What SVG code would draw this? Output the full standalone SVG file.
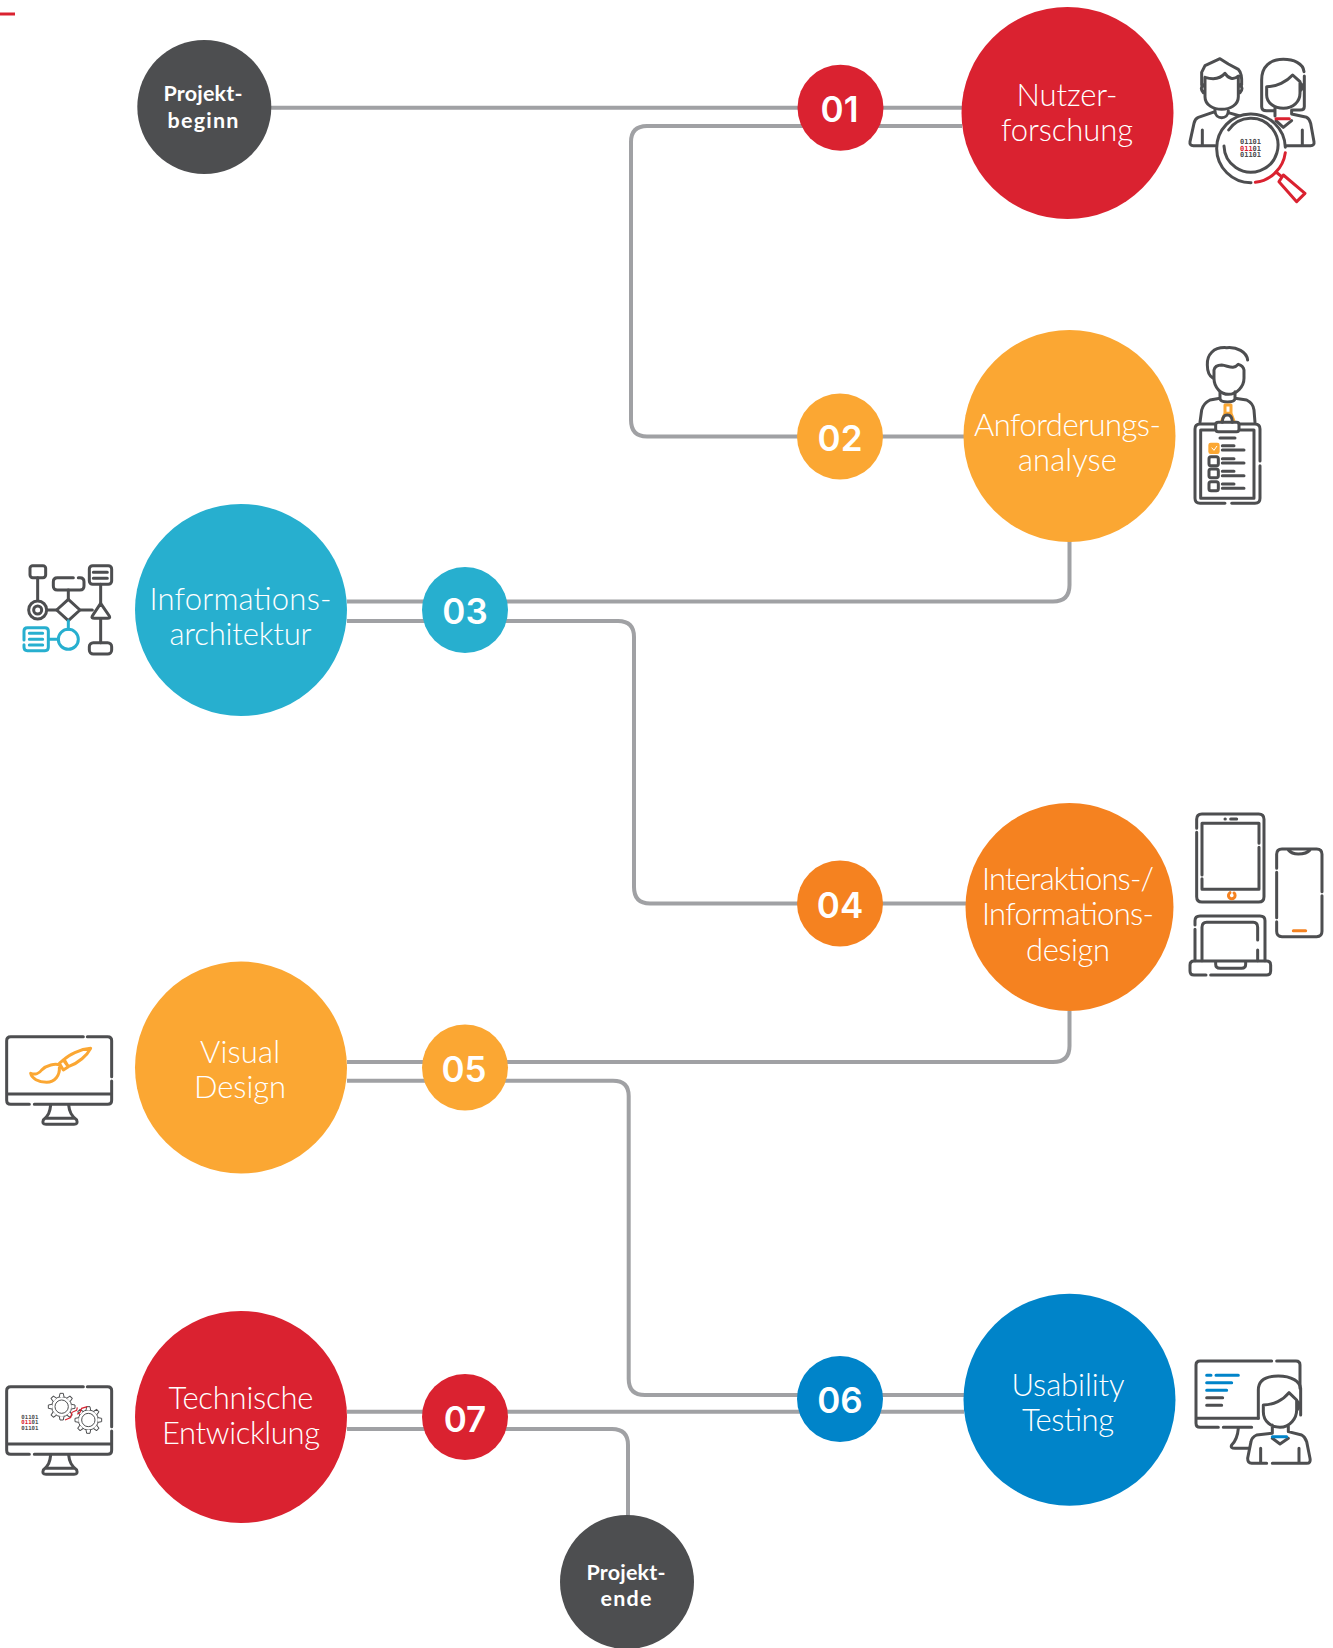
<svg xmlns="http://www.w3.org/2000/svg" width="1333" height="1648" viewBox="0 0 1333 1648">
<style>
.c{fill:none;stroke:#a0a1a4;stroke-width:4}
.i{fill:none;stroke:#4d4e50;stroke-width:9;stroke-linecap:round;stroke-linejoin:round}
.r{stroke:#da2230}.o{stroke:#fba733}.o2{stroke:#f58220}.b{stroke:#27afcf}.u{stroke:#0084c9}
.big{font-family:Lato,"Liberation Sans",sans-serif;font-weight:300;font-size:31px;fill:#fff;text-anchor:middle}
.num{font-family:Inter,"Liberation Sans",sans-serif;font-weight:600;font-size:35px;fill:#fff;text-anchor:middle}
.sm{font-family:Lato,"Liberation Sans",sans-serif;font-weight:700;font-size:21.500px;fill:#fff;text-anchor:middle}
.bin{font-family:"DejaVu Sans Mono",monospace;font-weight:700;font-size:21px;fill:#4d4e50}
.binS{font-family:"DejaVu Sans Mono",monospace;font-weight:700;font-size:17px;fill:#4d4e50}
</style>
<defs>
<g id="monitor">
<path class="i" d="M250 35H32Q20 35 20 47V226Q20 238 32 238H88M103 238H323Q335 238 335 226V168M335 155V47Q335 35 323 35H262M22 207H333"/>
<path class="i" d="M152 240C150 262 145 272 130 285Q125 298 138 298H222Q235 298 230 285C215 272 208 262 206 240M140 280H220"/>
</g>
<path id="tooth" d="M-7 -29L-5 -40H5L7 -29" fill="#fff" stroke="#4d4e50" stroke-width="3" stroke-linejoin="round"/>
<g id="gear">
<circle r="30" fill="#fff" stroke="#4d4e50" stroke-width="3"/>
<use href="#tooth"/><use href="#tooth" transform="rotate(45)"/><use href="#tooth" transform="rotate(90)"/><use href="#tooth" transform="rotate(135)"/><use href="#tooth" transform="rotate(180)"/><use href="#tooth" transform="rotate(225)"/><use href="#tooth" transform="rotate(270)"/><use href="#tooth" transform="rotate(315)"/>
<circle r="27" fill="#fff"/>
<circle r="20" fill="none" stroke="#4d4e50" stroke-width="3"/>
</g>
</defs>

<path d="M0 14H15" fill="none" stroke="#da2230" stroke-width="3"/>

<g id="connectors">
<path class="c" d="M271 107.700H962"/>
<path class="c" d="M962 126H647Q631 126 631 142V420Q631 436.500 647 436.500H964"/>
<path class="c" d="M1069.500 541V585Q1069.500 601.500 1053 601.500H347"/>
<path class="c" d="M347 621H618Q634 621 634 637V887Q634 903.500 650 903.500H966"/>
<path class="c" d="M1069.500 1011V1046Q1069.500 1062 1053 1062H347"/>
<path class="c" d="M347 1080.700H613Q628.700 1080.700 628.700 1096V1379Q628.700 1395 645 1395H964"/>
<path class="c" d="M347 1411.700H964"/>
<path class="c" d="M347 1429H612Q628 1429 628 1445V1516"/>
</g>

<g id="node-start"><circle cx="204.300" cy="107" r="67" fill="#4d4e50"/><text class="sm" x="203" y="101" textLength="79">Projekt-</text><text class="sm" x="203" y="128" textLength="71">beginn</text></g>
<g id="node-end"><circle cx="627" cy="1582" r="67" fill="#4d4e50"/><text class="sm" x="626" y="1580" textLength="79">Projekt-</text><text class="sm" x="626" y="1606" textLength="51">ende</text></g>

<g id="node-01"><circle cx="840.500" cy="107.800" r="43" fill="#da2230"/><text class="num" x="839.500" y="122">01</text>
<circle cx="1067.500" cy="113" r="106" fill="#da2230"/><text class="big" x="1067" y="106" textLength="101">Nutzer-</text><text class="big" x="1067" y="141" textLength="132">forschung</text></g>
<g id="node-02"><circle cx="840" cy="436.500" r="43" fill="#fba733"/><text class="num" x="840" y="451">02</text>
<circle cx="1069.500" cy="436" r="106" fill="#fba733"/><text class="big" x="1067.500" y="436" textLength="187">Anforderungs-</text><text class="big" x="1067.500" y="471" textLength="99">analyse</text></g>
<g id="node-03"><circle cx="465" cy="610" r="43" fill="#27afcf"/><text class="num" x="465" y="624">03</text>
<circle cx="241" cy="610" r="106" fill="#27afcf"/><text class="big" x="240.500" y="610" textLength="182">Informations-</text><text class="big" x="240.500" y="645" textLength="142">architektur</text></g>
<g id="node-04"><circle cx="840" cy="903.600" r="43" fill="#f58220"/><text class="num" x="840" y="918">04</text>
<circle cx="1069.500" cy="907" r="104" fill="#f58220"/><text class="big" x="1068" y="890" textLength="172">Interaktions-/</text><text class="big" x="1068" y="925" textLength="172">Informations-</text><text class="big" x="1068" y="961" textLength="84">design</text></g>
<g id="node-05"><circle cx="465" cy="1067.600" r="43" fill="#fba733"/><text class="num" x="464" y="1082">05</text>
<circle cx="241" cy="1067.600" r="106" fill="#fba733"/><text class="big" x="240" y="1063" textLength="80">Visual</text><text class="big" x="240" y="1098" textLength="92">Design</text></g>
<g id="node-06"><circle cx="840" cy="1399" r="43" fill="#0084c9"/><text class="num" x="840" y="1413">06</text>
<circle cx="1069.500" cy="1399.700" r="106" fill="#0084c9"/><text class="big" x="1068" y="1396" textLength="113">Usability</text><text class="big" x="1068" y="1431" textLength="92">Testing</text></g>
<g id="node-07"><circle cx="465" cy="1417" r="43" fill="#da2230"/><text class="num" x="465" y="1432">07</text>
<circle cx="241" cy="1417" r="106" fill="#da2230"/><text class="big" x="241" y="1409" textLength="145">Technische</text><text class="big" x="241" y="1444" textLength="158">Entwicklung</text></g>

<g id="icon-research" transform="translate(1170 40) scale(.3333)">
<path class="i" d="M95 135V97L105 77L150 56L175 72L205 88Q217 100 215 135M105 112V170C105 195 130 208 155 208C180 208 205 195 205 170V108C190 122 175 115 165 100C150 118 125 118 105 112M100 135Q88 145 100 158M210 135Q222 145 210 158"/>
<path class="i" d="M135 207V215L85 232Q75 236 72 250L60 305Q58 317 70 317H135M135 212C135 240 175 240 175 212V218L210 228M97 270V317"/>
<path class="i" d="M402 95C400 70 370 58 340 58C300 58 275 80 275 120V200Q275 212 290 212H310M403 108V200Q403 210 390 210H368M290 140V165C290 190 315 205 340 205C370 205 390 185 390 160V125L368 105C350 125 320 140 290 140M392 130Q402 140 392 152M315 205V228"/>
<path class="i" d="M365 210V222L410 232Q418 236 422 250L432 305Q434 317 422 317H350M318 242L340 262L365 242M397 270V317"/>
<circle cx="243" cy="325" r="103" fill="#fff"/>
<path class="i" d="M243 428A103 103 0 1 1 346 322"/>
<path class="i r" d="M346 338A103 103 0 0 1 256 427M318 236H358M340 405L405 460L380 485L327 425Z"/>
<path class="i" d="M176 270A81 81 0 1 1 162 318"/>
<path class="i r" d="M318 396L335 410"/>
<text class="bin" x="210" y="312">01101</text>
<text class="bin" x="210" y="332"><tspan fill="#da2230">011</tspan>01</text>
<text class="bin" x="210" y="352">01101</text>
</g>

<g id="icon-analysis" transform="translate(1170 335) scale(.3333)">
<path class="i" d="M233 75C230 50 200 35 170 38C130 35 110 60 112 90C112 110 120 125 130 130M132 105V130C132 160 155 178 175 178C200 178 222 155 222 130V105Q220 92 205 88C190 105 175 92 155 90Q135 90 132 105"/>
<path class="i" d="M150 170V190C150 205 195 205 195 190V170M150 190L120 195Q100 205 95 225L90 262M195 190L230 195Q250 205 252 225L255 262"/>
<path class="i o" d="M165 210H183V235H165ZM165 235L155 258M183 235L192 258"/>
<path class="i" d="M157 262Q157 240 172 240Q187 240 187 262"/>
<path class="i" d="M135 267H90Q75 267 75 282V490Q75 505 90 505H165M185 505H255Q270 505 270 490V392M270 378V282Q270 267 255 267H208"/>
<path class="i" d="M137 270Q137 262 145 262H200Q207 262 207 270V282Q207 290 200 290H145Q137 290 137 282ZM135 285H92V490H252V285H210M150 309H195"/>
<rect x="115" y="323" width="34" height="34" rx="7" fill="#fba733"/>
<path d="M125 338L132 346L141 333" fill="none" stroke="#fff" stroke-width="3"/>
<path class="i" d="M157 332H192M157 345H222M157 371H192M157 384H222M157 409H192M157 422H222M157 447H192M157 460H222"/>
<rect class="i" x="117" y="365" width="28" height="27" rx="6"/><rect class="i" x="117" y="402" width="28" height="26" rx="6"/><rect class="i" x="117" y="440" width="28" height="27" rx="6"/>
</g>

<g id="icon-ia" transform="translate(10 550) scale(.3333)">
<path class="i" d="M83 83V150M112 180H140M175 148V120M212 180H247M272 103V160M272 207V278"/>
<rect class="i" x="60" y="47" width="47" height="36" rx="8"/>
<circle class="i" cx="83" cy="180" r="27"/><circle class="i" cx="83" cy="180" r="12"/>
<path class="i" d="M175 148L210 180L175 212L140 180Z"/>
<path class="i" d="M190 83H142Q130 83 130 95V108Q130 120 142 120H210Q222 120 222 108V95Q222 83 210 83H205"/>
<path class="i" d="M272 160L298 198Q302 205 292 205H253Q243 205 247 198Z"/>
<rect class="i" x="238" y="47" width="67" height="56" rx="10"/>
<path class="i" d="M250 67H292M250 85H292"/>
<rect class="i" x="238" y="278" width="67" height="34" rx="12"/>
<path class="i b" d="M175 212V238M115 268H145M42 270V243Q42 233 52 233H105Q115 233 115 243V292Q115 302 105 302H52Q42 302 42 292V284M58 250H98M58 268H98M58 285H98"/>
<circle class="i b" cx="175" cy="268" r="30"/>
</g>

<g id="icon-devices" transform="translate(1180 800) scale(.3333)">
<path class="i" d="M50 85V58Q50 42 66 42H236Q252 42 252 58V290Q252 306 236 306H66Q50 306 50 290V97"/>
<path class="i" d="M237 130V70H66V225M66 236V268H237V142"/>
<path class="i" d="M135 57H136M152 57H170"/>
<path class="i o2" d="M162 279A10 10 0 1 1 150 278" stroke-width="6"/>
<path class="i" d="M290 205V163Q290 147 306 147H410Q426 147 426 163V275M426 287V394Q426 410 410 410H306Q290 410 290 394V365M290 353V217M325 150Q335 162 355 162Q380 162 390 150"/>
<path class="i o2" d="M340 392H377"/>
<path class="i" d="M45 375V362Q45 348 60 348H240Q255 348 255 362V482M45 388V482M66 482V382Q66 367 80 367H220Q233 367 233 382V420M233 450V482"/>
<path class="i" d="M78 525H42Q30 525 30 513V495Q30 483 42 483H260Q272 483 272 495V513Q272 525 260 525H92M107 485V493Q107 505 120 505H185Q197 505 197 493V485"/>
</g>

<g id="icon-visual" transform="translate(0 1025) scale(.3333)">
<use href="#monitor"/>
<path class="i o" d="M272 70C240 72 205 90 190 105L205 125C235 115 262 90 272 70ZM178 115L192 103L205 125L190 135ZM180 120C165 115 140 120 125 135C118 145 105 150 92 145C95 160 115 172 140 172C165 172 180 150 178 128"/>
</g>

<g id="icon-dev" transform="translate(0 1375) scale(.3333)">
<use href="#monitor"/>
<use href="#gear" transform="translate(185 95)"/>
<use href="#gear" transform="translate(265 135)"/>
<path d="M195 135L212 128L216 112L230 106L232 97M232 118L240 112L245 100L262 95" fill="none" stroke="#da2230" stroke-width="3.500"/>
<text class="binS" x="64" y="131">01101</text>
<text class="binS" x="64" y="148"><tspan fill="#da2230">011</tspan>01</text>
<text class="binS" x="64" y="164">01101</text>
</g>

<g id="icon-testing" transform="translate(1185 1350) scale(.3333)">
<path class="i" d="M260 33H45Q33 33 33 45V220Q33 232 45 232H100M115 232H200M275 33H333Q345 33 345 45V115M33 205H220M160 235C158 260 150 275 140 285Q135 295 150 295H195"/>
<path class="i u" d="M65 76H78M93 76H160M65 98H140M65 121H125"/>
<path class="i" d="M65 143H113M65 166H110"/>
<path d="M255 245L215 255Q200 262 198 275L188 325Q188 340 200 340H365Q378 340 375 325L365 275Q360 260 350 255L315 245Z" fill="#fff"/>
<path class="i" d="M220 205V120C220 85 250 78 280 78C320 78 345 95 347 115V195"/>
<path class="i" d="M235 165V185C235 215 260 232 285 232C315 232 335 205 335 180V150L312 128C295 150 265 165 235 165M338 155Q348 165 338 178M262 225V250L215 255Q200 262 198 275L188 325Q188 340 200 340H245M262 340H365Q378 340 375 325L365 275Q360 260 350 255L310 245V225M262 265L285 282L310 265M227 295V340M342 295V340"/>
<path class="i u" d="M262 260H305"/>
</g>
</svg>
